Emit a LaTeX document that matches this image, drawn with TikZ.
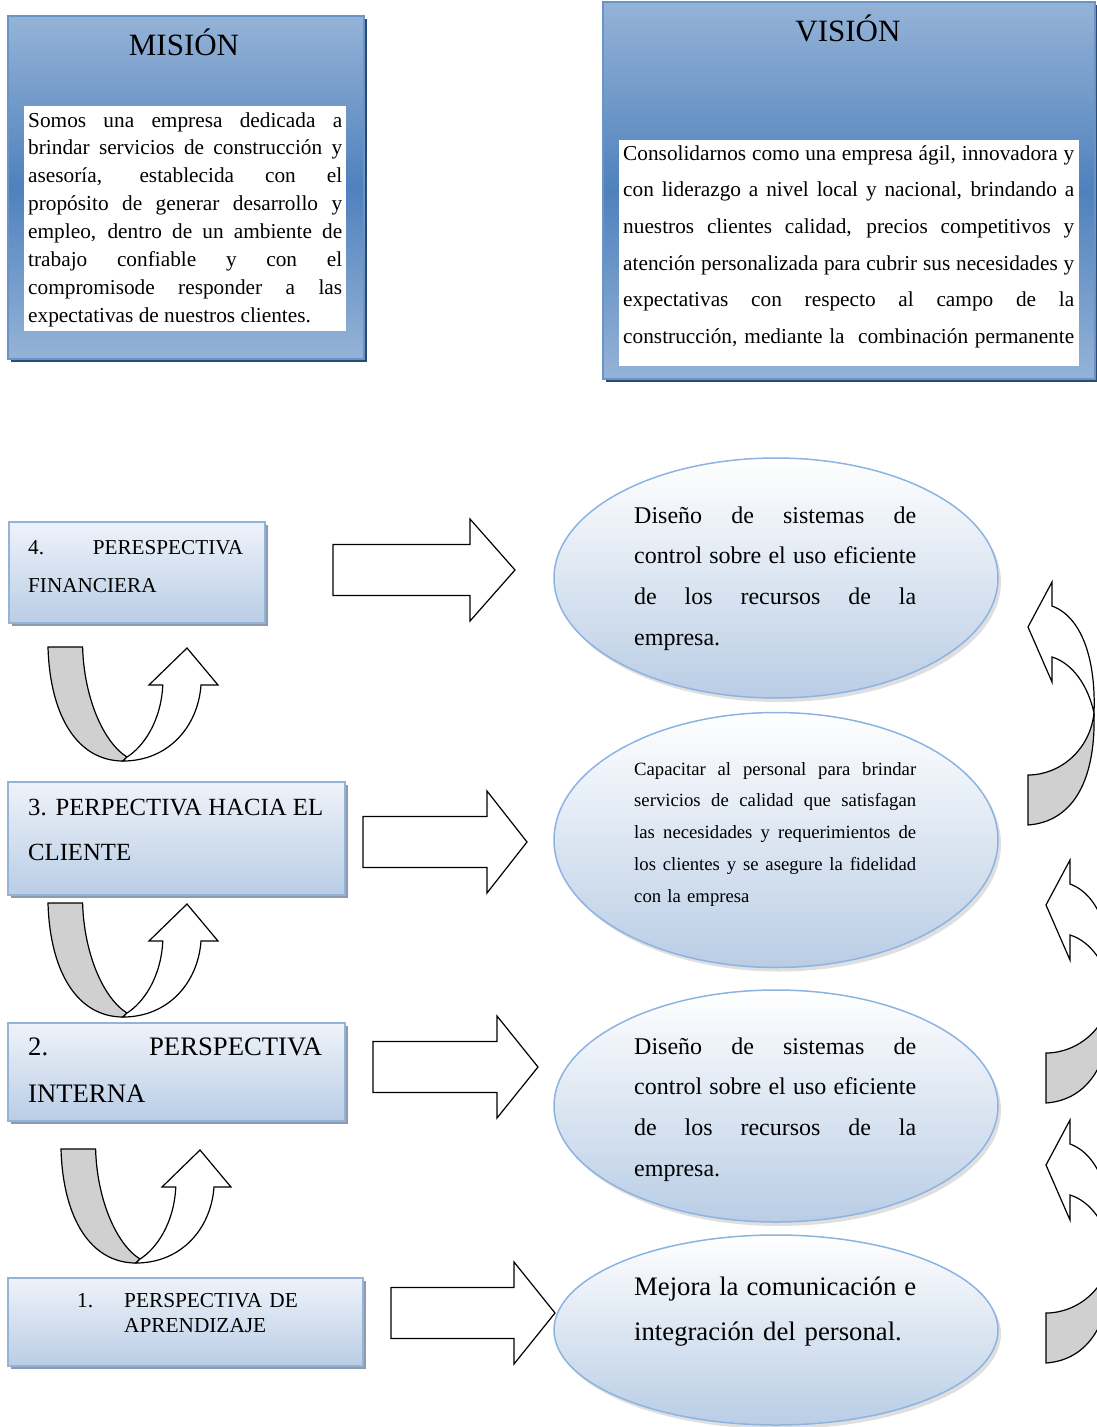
\documentclass[tikz,border=0pt]{standalone}
\usepackage{fontspec}
\setmainfont{Liberation Serif}
\usetikzlibrary{shapes.geometric,shadows}
\tikzset{>=stealth}

\definecolor{misblue}{HTML}{4F81BD}
\definecolor{lightblue}{HTML}{95B3D7}
\definecolor{paleblue}{HTML}{B9CDE5}
\definecolor{topblue}{HTML}{EEF3FA}
\definecolor{navyshadow}{HTML}{2B4A72}
\definecolor{greyshadow}{HTML}{8E9BAF}
\definecolor{ovalline}{HTML}{8DB3E2}
\definecolor{bandgrey}{HTML}{D0D0D0}

\newcommand{\jline}[2]{\makebox[#1][s]{\spaceskip=0pt\xspaceskip=0pt #2}}
\newcommand{\blockarrow}[4]{%
  \draw[band, fill=white] (#1,#4-25.5) -- (#2,#4-25.5) -- (#2,#4-51) -- (#3,#4)
    -- (#2,#4+51) -- (#2,#4+25.5) -- (#1,#4+25.5) -- cycle;}

\tikzset{
  bigbox/.style={draw=misblue!85, line width=2pt, inner sep=0pt, anchor=north west,
    top color=lightblue, bottom color=lightblue, middle color=misblue,
    drop shadow={shadow xshift=3pt, shadow yshift=-3pt, fill=navyshadow, opacity=1}},
  whitebox/.style={fill=white, inner sep=0pt, anchor=north west},
  persp/.style={draw=lightblue, line width=2pt, inner sep=0pt, anchor=north west,
    top color=topblue, bottom color=paleblue,
    drop shadow={shadow xshift=3pt, shadow yshift=-3pt, fill=greyshadow, opacity=1}},
  oval/.style={ellipse, draw=ovalline, line width=1.5pt, inner sep=0pt,
    top color=white, bottom color=paleblue,
    drop shadow={shadow xshift=3pt, shadow yshift=-4pt, opacity=0.25}},
  words/.style={inner sep=0pt, anchor=base west, align=left},
  band/.style={draw=black, line width=1.2pt, line join=miter},
  uturn/.pic={
    \filldraw[band, fill=bandgrey] (0,0) -- (34.6,0) .. controls (36,50) and (55,95) .. (79,110)
      -- (75,114) .. controls (30,114) and (2,70) .. (0,0) -- cycle;
    \filldraw[band, fill=white] (79,110) .. controls (95,100) and (113,75) .. (114.8,38)
      -- (101,38) -- (139,1) -- (170,38) -- (153,38) .. controls (150,80) and (120,114) .. (75,114) -- cycle;
  },
  backarrow/.pic={
    \filldraw[band, fill=white] (24,-21) .. controls (54,-10) and (68,33) .. (66,86)
      .. controls (60,58) and (44,36) .. (24,30) -- (24,55) -- (0,0) -- (24,-45) -- cycle;
    \filldraw[band, fill=bandgrey] (66,86) .. controls (62,123) and (32,148) .. (0,148)
      -- (0,198) .. controls (42,195) and (68,158) .. (66,86) -- cycle;
  }
}

\begin{document}
\begin{tikzpicture}[x=1pt, y=-1pt]
\useasboundingbox (0,0) rectangle (1097,1427);

% mision y vision
\node[bigbox, minimum width=356pt, minimum height=343pt] (mision) at (7,15) {};
\node[anchor=base, font=\fontsize{31}{31}\selectfont] (mistitle) at (184,55) {MISIÓN};
\node[whitebox, minimum width=322pt, minimum height=225pt] (misbox) at (24,106) {};
\node[words, text width=314pt, font=\fontsize{21.3}{27.9}\selectfont] (mistext) at (28,127) {%
  \jline{314pt}{Somos una empresa dedicada a}\\
  \jline{314pt}{brindar servicios de construcción y}\\
  \jline{314pt}{asesoría, establecida con el}\\
  \jline{314pt}{propósito de generar desarrollo y}\\
  \jline{314pt}{empleo, dentro de un ambiente de}\\
  \jline{314pt}{trabajo confiable y con el}\\
  \jline{314pt}{compromisode responder a las}\\
  \jline{314pt}{expectativas de nuestros clientes.\hfill}};

\node[bigbox, minimum width=492pt, minimum height=377pt] (vision) at (602,1) {};
\node[anchor=base, font=\fontsize{31}{31}\selectfont] (vistitle) at (848,41) {VISIÓN};
\node[whitebox, minimum width=460pt, minimum height=226pt] (visbox) at (619,140) {};
\node[words, text width=451pt, font=\fontsize{21.3}{36.7}\selectfont] (vistext) at (623,160) {%
  \jline{451pt}{Consolidarnos como una empresa ágil, innovadora y}\\
  \jline{451pt}{con liderazgo a nivel local y nacional, brindando a}\\
  \jline{451pt}{nuestros clientes calidad, precios competitivos y}\\
  \jline{451pt}{atención personalizada para cubrir sus necesidades y}\\
  \jline{451pt}{expectativas con respecto al campo de la}\\
  \jline{451pt}{construcción, mediante la\ \ combinación permanente}};

% perspectivas
\node[persp, minimum width=256pt, minimum height=101pt] (persp4) at (8,521) {};
\node[words, text width=230pt, font=\fontsize{21.2}{38}\selectfont] (p4text) at (28,554) {%
  \jline{215pt}{4. PERESPECTIVA}\\ FINANCIERA};

\node[persp, minimum width=337pt, minimum height=113pt] (persp3) at (7,781) {};
\node[words, text width=310pt, font=\fontsize{24.7}{45}\selectfont] (p3text) at (28,815) {%
  \jline{295pt}{3. PERPECTIVA HACIA EL}\\ CLIENTE};

\node[persp, minimum width=337pt, minimum height=98pt] (persp2) at (7,1022) {};
\node[words, text width=310pt, font=\fontsize{26.7}{47}\selectfont] (p2text) at (28,1055) {%
  \jline{294pt}{2. PERSPECTIVA}\\ INTERNA};

\node[persp, minimum width=355pt, minimum height=88pt] (persp1) at (7,1277) {};
\node[words, font=\fontsize{21.3}{25}\selectfont] (p1num) at (77,1307) {1.};
\node[words, text width=200pt, font=\fontsize{21.3}{25}\selectfont] (p1text) at (124,1307) {%
  PERSPECTIVA DE\\ APRENDIZAJE};

% flechas en U
\pic at (48,647) {uturn};
\pic at (48,903) {uturn};
\pic at (61,1149) {uturn};

% ovalos
\node[oval, minimum width=444pt, minimum height=240pt] (oval4) at (776,578) {};
\node[words, text width=282pt, font=\fontsize{24}{40.7}\selectfont] (o4text) at (634,523) {%
  \jline{282pt}{Diseño de sistemas de}\\
  \jline{282pt}{control sobre el uso eficiente}\\
  \jline{282pt}{de los recursos de la}\\
  empresa.};

\node[oval, minimum width=444pt, minimum height=255pt] (oval3) at (776,840) {};
\node[words, text width=282pt, font=\fontsize{18.7}{31.8}\selectfont] (o3text) at (634,775) {%
  \jline{282pt}{Capacitar al personal para brindar}\\
  \jline{282pt}{servicios de calidad que satisfagan}\\
  \jline{282pt}{las necesidades y requerimientos de}\\
  \jline{282pt}{los clientes y se asegure la fidelidad}\\
  con la empresa};

\node[oval, minimum width=444pt, minimum height=232pt] (oval2) at (776,1106) {};
\node[words, text width=282pt, font=\fontsize{24}{40.7}\selectfont] (o2text) at (634,1054) {%
  \jline{282pt}{Diseño de sistemas de}\\
  \jline{282pt}{control sobre el uso eficiente}\\
  \jline{282pt}{de los recursos de la}\\
  empresa.};

\node[oval, minimum width=444pt, minimum height=190pt] (oval1) at (776,1330) {};
\node[words, text width=282pt, font=\fontsize{26.7}{45}\selectfont] (o1text) at (634,1295) {%
  \jline{282pt}{Mejora la comunicación e}\\
  integración del personal.};

% flechas de bloque
\blockarrow{333}{470}{515}{570}
\blockarrow{363}{487}{527}{842}
\blockarrow{373}{497}{538}{1067}
\blockarrow{391}{514}{555}{1313}

% flechas de retorno
\begin{scope}
\clip (0,0) rectangle (1097,1427);
\pic at (1028,627) {backarrow};
\pic at (1046,905) {backarrow};
\pic at (1046,1165) {backarrow};
\end{scope}

\end{tikzpicture}
\end{document}
